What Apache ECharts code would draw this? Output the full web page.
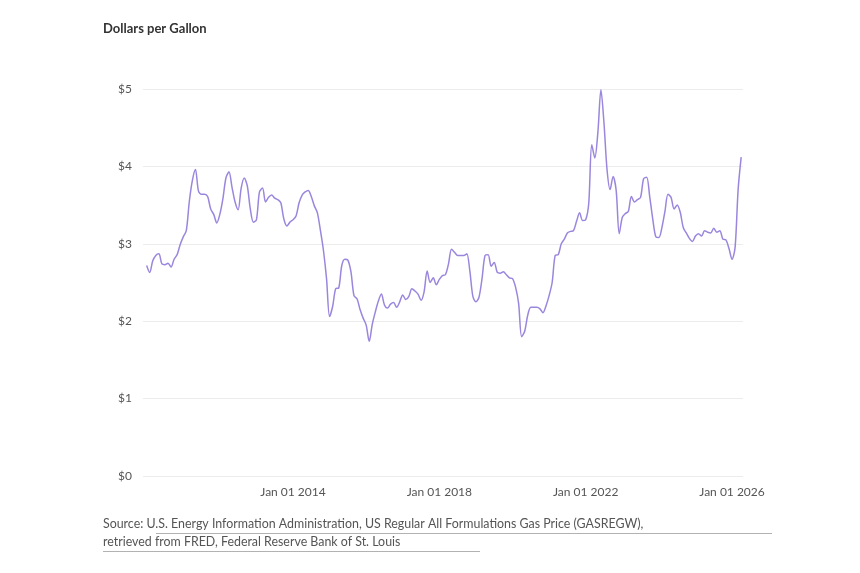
<!DOCTYPE html>
<html><head><meta charset="utf-8">
<script src="https://cdn.jsdelivr.net/npm/echarts@6/dist/echarts.min.js"></script>
<style>body{margin:0;background:#fff}#c{width:860px;height:573px}</style>
</head><body><div id="c"></div>
<script>
const startYear = 2010;
const monthlyPrices = [
 [2.72,2.63,2.78,2.85,2.87,2.74,2.73,2.75,2.70,2.80,2.86,2.99],
 [3.09,3.17,3.55,3.82,3.96,3.68,3.64,3.64,3.61,3.45,3.38,3.27],
 [3.38,3.58,3.85,3.93,3.73,3.54,3.44,3.72,3.85,3.75,3.45,3.28],
 [3.31,3.67,3.72,3.54,3.60,3.63,3.59,3.57,3.53,3.32,3.23,3.28],
 [3.31,3.36,3.53,3.63,3.67,3.69,3.61,3.49,3.40,3.17,2.91,2.55],
 [2.06,2.19,2.42,2.43,2.72,2.80,2.79,2.64,2.33,2.29,2.15,2.04],
 [1.95,1.74,1.96,2.12,2.26,2.35,2.21,2.17,2.22,2.24,2.18,2.25],
 [2.34,2.28,2.32,2.42,2.39,2.35,2.27,2.38,2.65,2.50,2.56,2.47],
 [2.54,2.59,2.60,2.74,2.93,2.89,2.85,2.85,2.85,2.87,2.65,2.32],
 [2.25,2.31,2.55,2.85,2.86,2.71,2.76,2.63,2.62,2.64,2.60,2.56],
 [2.55,2.44,2.23,1.80,1.87,2.08,2.18,2.18,2.18,2.16,2.11,2.20],
 [2.33,2.50,2.85,2.86,3.00,3.06,3.14,3.16,3.17,3.29,3.40,3.30],
 [3.31,3.52,4.28,4.11,4.44,4.99,4.56,3.96,3.70,3.87,3.69,3.13],
 [3.34,3.39,3.42,3.61,3.54,3.57,3.60,3.84,3.86,3.61,3.32,3.09],
 [3.08,3.21,3.42,3.64,3.60,3.45,3.50,3.41,3.21,3.14,3.07,3.03],
 [3.10,3.13,3.10,3.17,3.15,3.14,3.20,3.15,3.17,3.06,3.05,2.94],
 [2.80,2.95,3.70,4.12]
];
const tickYears = [2014, 2018, 2022, 2026];
const yTicks = [0,1,2,3,4,5];
const points = [];
monthlyPrices.forEach((row, i) => row.forEach((v, m) => points.push([startYear + i + m/12, v])));
const chart = echarts.init(document.getElementById('c'));
chart.setOption({
  animation:false,
  title:{text:'Dollars per Gallon',left:98,top:17,textStyle:{fontFamily:'Lato',fontSize:13,fontWeight:'bold',color:'#333'}},
  grid:{left:143,right:117,top:89,bottom:97},
  xAxis:{type:'value',min:2009.9,max:2026.3,
    axisLine:{show:false},axisTick:{show:false},splitLine:{show:false},
    axisLabel:{customValues:tickYears,formatter:v=>'Jan 01 '+Math.round(v),color:'#555',fontFamily:'Lato',fontSize:12,margin:10}},
  yAxis:{type:'value',min:0,max:5,interval:1,
    axisLine:{show:false},axisTick:{show:false},
    splitLine:{lineStyle:{color:'#ececec'}},
    axisLabel:{formatter:v=>'$'+v,color:'#555',fontFamily:'Lato',fontSize:12,margin:25,align:'left'}},
  series:[{type:'line',data:points,showSymbol:false,smooth:0.3,clip:false,
    lineStyle:{color:'#9b86de',width:1.5}}],
  graphic:[
    {type:'text',left:103,top:518,style:{text:'Source: U.S. Energy Information Administration, US Regular All Formulations Gas Price (GASREGW),',fill:'#555',font:'12.4px Lato'}},
    {type:'text',left:103,top:536,style:{text:'retrieved from FRED, Federal Reserve Bank of St. Louis',fill:'#555',font:'12.4px Lato'}},
    {type:'rect',shape:{x:156,y:533,width:616,height:0.8},style:{fill:'#999'}},
    {type:'rect',shape:{x:103,y:551,width:377,height:0.8},style:{fill:'#999'}}
  ]
});
</script></body></html>
